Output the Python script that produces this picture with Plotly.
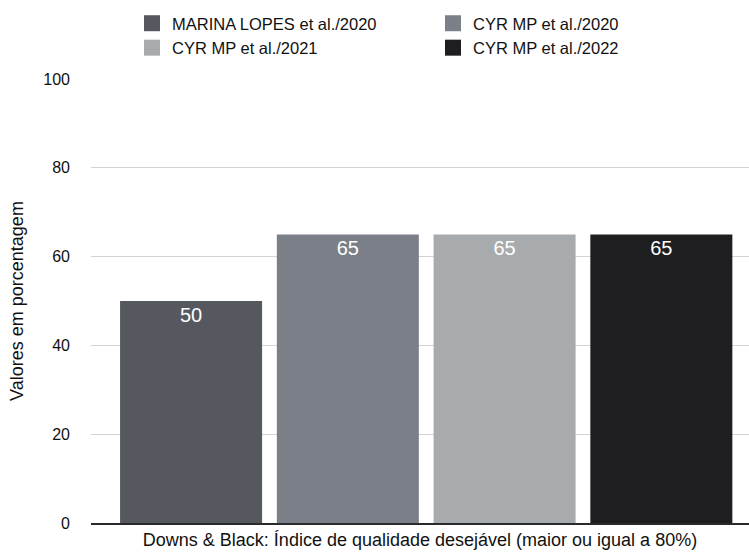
import plotly.graph_objects as go

category = ["Downs & Black"]
series_names = ["MARINA LOPES et al./2020", "CYR MP et al./2020", "CYR MP et al./2021", "CYR MP et al./2022"]
series_values = [50, 65, 65, 65]
colors = ["#55585f", "#7b7f87", "#a8abae", "#1e1e20"]
y_ticks = [0, 20, 40, 60, 80, 100]
x_title = "Downs & Black: Índice de qualidade desejável (maior ou igual a 80%)"
y_title = "Valores em porcentagem"

FONT = "Liberation Sans, Arial, Helvetica, sans-serif"

fig = go.Figure()
for name, val, col in zip(series_names, series_values, colors):
    fig.add_trace(go.Bar(
        x=category, y=[val], name=name, marker_color=col, marker_line_width=0,
        text=[str(val)], textposition="inside", insidetextanchor="end",
        textfont=dict(color="white", size=20, family=FONT),
        showlegend=False,
    ))
# legend proxies with square swatches
for name, col in zip(series_names, colors):
    fig.add_trace(go.Scatter(
        x=[None], y=[None], mode="markers", name=name,
        marker=dict(symbol="square", size=16, color=col),
        showlegend=True,
    ))

fig.update_layout(
    template="none",
    width=749, height=552,
    margin=dict(l=91, r=0, t=79, b=29),
    paper_bgcolor="white", plot_bgcolor="white",
    font=dict(family=FONT, size=16, color="#111111"),
    barmode="group", bargap=0, bargroupgap=0.094,
    legend=dict(orientation="h", x=(132 - 91) / 658, xanchor="left",
                y=(523 - 6) / 444, yref="paper", yanchor="top",
                entrywidth=256, itemwidth=30, tracegroupgap=0,
                font=dict(size=16.5, family=FONT, color="#111111")),
    showlegend=True,
)
fig.update_xaxes(
    type="category", range=[-0.5346, 0.5148], showticklabels=False, showgrid=False,
    showline=True, linecolor="#2a2a2a", linewidth=1.5, ticks="",
    title=dict(text=x_title, font=dict(size=18, family=FONT, color="#111111"), standoff=10),
    automargin=False, zeroline=False,
)
fig.update_yaxes(
    range=[0, 100], tickvals=y_ticks, showgrid=True, gridcolor="#d3d3d3", gridwidth=1,
    zeroline=False, showline=False, ticks="", ticklabelstandoff=20,
    tickfont=dict(size=16, family=FONT, color="#111111"),
    title=dict(text=y_title, font=dict(size=18, family=FONT, color="#111111"), standoff=14),
    automargin=False,
)

fig.write_html("out.html")
